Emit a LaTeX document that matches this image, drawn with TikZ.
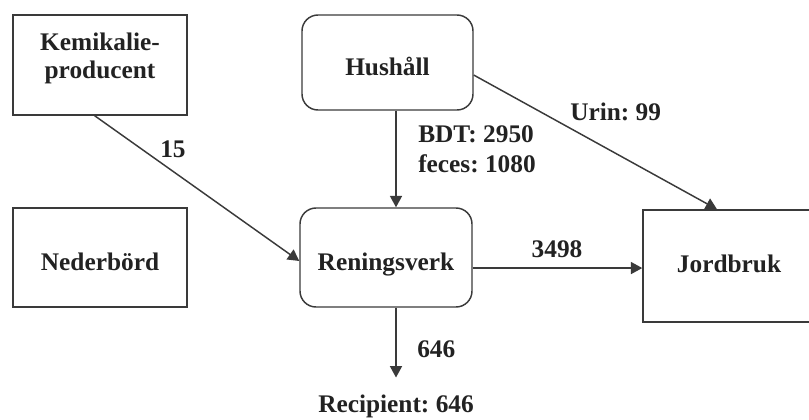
\documentclass[tikz,border=0pt]{standalone}
\usepackage{fontspec}
\setmainfont{Liberation Serif}
\usepackage{xcolor}
\usepackage{tikz}
\usetikzlibrary{calc,arrows.meta,positioning}
\definecolor{inkc}{HTML}{3A3A3A}
\definecolor{txtc}{HTML}{222222}
\frenchspacing
\tikzset{
  flow/.style={-{Triangle[length=8.5pt,width=9pt]},line width=1.1pt,inkc},
  box/.style={draw=inkc,line width=1.1pt,align=center,inner sep=0pt,text=txtc,font=\bfseries\fontsize{19}{21}\selectfont},
  rbox/.style={box,rounded corners=12pt},
  lowtxt/.style={text height=23pt,text depth=3pt},
  lbl/.style={inner sep=0pt,text=txtc,font=\bfseries\fontsize{19}{22.5}\selectfont}
}
\begin{document}
\begin{tikzpicture}[x=0.75pt,y=-0.75pt]
\useasboundingbox (0,0) rectangle (809,419);
\clip (0,0) rectangle (809,419);
% boxes
\node[box,text depth=14.5pt,minimum width=130.5pt,minimum height=75pt] (kem) at (100,65) {Kemikalie-\\producent};
\node[rbox,lowtxt,minimum width=128.25pt,minimum height=71.25pt] (hus) at (387.5,62.5) {Hushåll};
\node[box,lowtxt,minimum width=130.5pt,minimum height=74.25pt] (ned) at (100,257.5) {Nederbörd};
\node[rbox,lowtxt,minimum width=129pt,minimum height=74.25pt] (ren) at (386,257.5) {Reningsverk};
\node[box,text height=13pt,text depth=3pt,minimum width=129pt,minimum height=84pt] (jord) at (729,266) {Jordbruk};
\node[lbl,anchor=base] (rec) at (396,412) {Recipient: 646};
% flows
\draw[flow] ([xshift=-4pt]kem.south) -- ([yshift=-2.6pt]ren.west);
\draw[flow] (rec.north |- hus.south) -- (rec.north |- ren.north);
\draw[flow] ([yshift=-9.4pt]hus.east) -- ([xshift=-9pt]jord.north);
\draw[flow] ([yshift=-7.9pt]ren.east) -- ([yshift=-7.9pt]ren.east -| jord.west);
\draw[flow] (rec.north |- ren.south) -- ([yshift=12.5pt]rec.north);
% labels
\node[lbl,anchor=base west] (l15) at (160,157) {15};
\node[lbl,align=left,anchor=west] (lbdt) at (418,149) {BDT: 2950\\feces: 1080};
\node[lbl,anchor=base west] (lurin) at (570,120) {Urin: 99};
\node[lbl,anchor=base] (l3498) at (557,257) {3498};
\node[lbl,anchor=base west] (l646) at (417,357) {646};
\end{tikzpicture}
\end{document}
